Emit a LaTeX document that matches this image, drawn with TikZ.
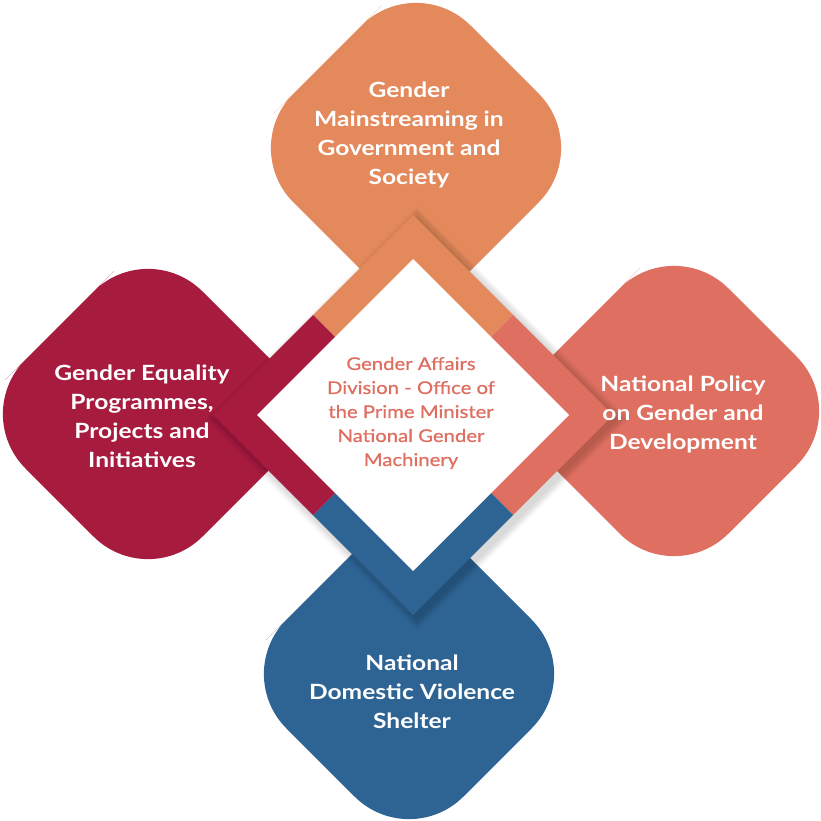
\documentclass[tikz,border=0pt]{standalone}
\usepackage{fontspec}
\setmainfont{Lato}[FakeStretch=1.17]
\newfontfamily\centrefont{Lato}[FakeStretch=1.16, FakeBold=0.8]
\definecolor{cOrange}{HTML}{E3895C}
\definecolor{cCrimson}{HTML}{A61B3E}
\definecolor{cCoral}{HTML}{DE6F61}
\definecolor{cBlue}{HTML}{2D6494}
\newcommand\bigdiamond[3]{%
  \fill[#3, rounded corners=77pt] (#1-88.5,#2-88.5) -- (#1,#2-177) -- (#1+177,#2) -- (#1,#2+177) -- (#1-177,#2) -- cycle;}
\begin{document}
\begin{tikzpicture}[x=1pt,y=-1pt,
  outer/.style={text=white, align=center, font=\bfseries\fontsize{21}{29}\selectfont},
  inner/.style={text=cCoral, align=center, font=\centrefont\fontsize{17.5}{24}\selectfont}]
\useasboundingbox (0,0) rectangle (821,821);
% big rounded diamonds
\bigdiamond{416}{148}{cOrange}
\bigdiamond{148}{414}{cCrimson}
\bigdiamond{674}{411}{cCoral}
\bigdiamond{409}{674}{cBlue}
% soft shadow of the band
\foreach \i in {1,...,10}{
  \fill[black, opacity=0.016] (417,419-200-1.2*\i) -- (417+200+1.2*\i,419) -- (417,419+200+1.2*\i) -- (417-200-1.2*\i,419) -- cycle;
}
% band chevrons (quadrants of the outer diamond)
\coordinate (C) at (413,415);
\fill[cOrange] (C) -- (313,315) -- (413,215) -- (513,315) -- cycle;
\fill[cCoral] (C) -- (513,315) -- (613,415) -- (513,515) -- cycle;
\fill[cBlue] (C) -- (513,515) -- (413,615) -- (313,515) -- cycle;
\fill[cCrimson] (C) -- (313,515) -- (213,415) -- (313,315) -- cycle;
% white centre
\fill[white] (413,259) -- (569,415) -- (413,571) -- (257,415) -- cycle;
% texts
\node[outer] (top) at (409,135) {Gender\\Mainstreaming in\\Government and\\Society};
\node[outer] (left) at (142,416) {Gender Equality\\Programmes,\\Projects and\\Initiatives};
\node[outer] (right) at (683,414) {National Policy\\on Gender and\\Development};
\node[outer] (bottom) at (412,692) {National\\Domestic Violence\\Shelter};
\node[inner] (centre) at (411,413) {Gender Affairs\\Division - Office of\\the Prime Minister\\National Gender\\Machinery};
\end{tikzpicture}
\end{document}
